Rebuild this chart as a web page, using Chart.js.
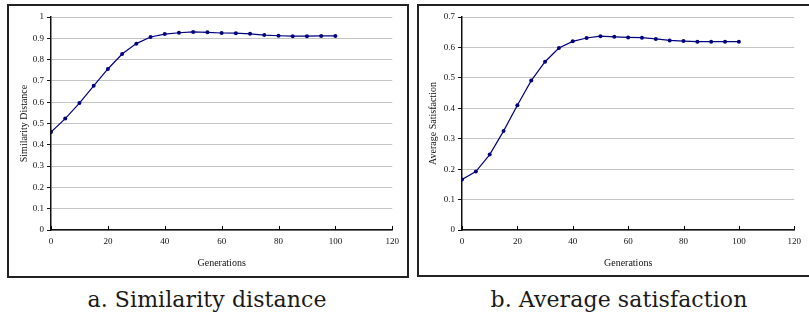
<!DOCTYPE html>
<html>
<head>
<meta charset="utf-8">
<script src="https://cdn.jsdelivr.net/npm/chart.js@4.4.0/dist/chart.umd.min.js"></script>
<style>
  html, body { margin: 0; padding: 0; background: #fff; }
  body { width: 809px; height: 320px; position: relative; overflow: hidden; }
  .panel { position: absolute; box-sizing: border-box; border: 2px solid #222; }
  canvas { position: absolute; }
  .cap { position: absolute; font-family: "DejaVu Serif", serif; font-size: 22px; letter-spacing: 0.1px; color: #1a1a1a; white-space: nowrap; transform: translateX(-50%); }
</style>
</head>
<body>
<div class="panel" style="left:7px;top:4px;width:402px;height:274px;"></div>
<div class="panel" style="left:417px;top:4px;width:400px;height:273px;"></div>
<canvas id="c1" width="395" height="266" style="left:10px;top:7px;"></canvas>
<canvas id="c2" width="386" height="266" style="left:421px;top:7px;"></canvas>
<div class="cap" style="left:207px;top:287px;">a. Similarity distance</div>
<div class="cap" style="left:619px;top:287px;">b. Average satisfaction</div>
<script>
const generations = [0,5,10,15,20,25,30,35,40,45,50,55,60,65,70,75,80,85,90,95,100];
const similarityDistance = [0.460,0.523,0.596,0.677,0.756,0.826,0.875,0.906,0.920,0.926,0.930,0.928,0.925,0.924,0.921,0.915,0.912,0.910,0.910,0.911,0.911];
const averageSatisfaction = [0.166,0.192,0.248,0.325,0.410,0.491,0.553,0.598,0.620,0.631,0.637,0.635,0.633,0.632,0.628,0.623,0.621,0.619,0.619,0.619,0.619];
const xTicks = [0,20,40,60,80,100,120];
const yTicksA = [0,0.1,0.2,0.3,0.4,0.5,0.6,0.7,0.8,0.9,1];
const yTicksB = [0,0.1,0.2,0.3,0.4,0.5,0.6,0.7];

const serif = "'Liberation Serif', 'Times New Roman', Tinos, 'DejaVu Serif', serif";
const tickFont = { family: serif, size: 9 };
const titleFont = { family: serif, size: 10 };

const innerTicks = {
  id: 'innerTicks',
  afterDatasetsDraw(chart) {
    const x = chart.scales.x, ctx = chart.ctx;
    ctx.save();
    ctx.strokeStyle = '#000';
    ctx.lineWidth = 1;
    xTicks.forEach(v => {
      const px = Math.round(x.getPixelForValue(v)) + 0.5;
      ctx.beginPath();
      ctx.moveTo(px, x.top);
      ctx.lineTo(px, x.top - 4);
      ctx.stroke();
    });
    ctx.restore();
  }
};

function makeChart(id, values, yTicks, ymax, ytitle, padRight, yTitlePad) {
  return new Chart(document.getElementById(id), {
    type: 'line',
    data: {
      datasets: [{
        data: generations.map((g, i) => ({ x: g, y: values[i] })),
        borderColor: '#00007f',
        backgroundColor: '#00007f',
        borderWidth: 1.2,
        pointRadius: 2,
        pointBorderWidth: 0,
        tension: 0,
        fill: false
      }]
    },
    options: {
      responsive: false,
      animation: false,
      layout: { padding: { top: 10, right: padRight, left: 0, bottom: 0 } },
      plugins: { legend: { display: false }, tooltip: { enabled: false } },
      scales: {
        x: {
          type: 'linear', min: 0, max: 120,
          afterBuildTicks(s) { s.ticks = xTicks.map(v => ({ value: v })); },
          afterFit(s) { s.height = 43; },
          ticks: { font: tickFont, color: '#111', padding: 6, maxRotation: 0, callback: v => String(v) },
          grid: { drawOnChartArea: false, drawTicks: false },
          border: { display: true, color: '#111', width: 1.5 },
          title: { display: true, text: 'Generations', font: titleFont, color: '#111', padding: { top: 0, bottom: 4 } }
        },
        y: {
          type: 'linear', min: 0, max: ymax,
          afterBuildTicks(s) { s.ticks = yTicks.map(v => ({ value: v })); },
          afterFit(s) { s.width = 41; },
          ticks: { font: tickFont, color: '#111', padding: 3, callback: v => String(v) },
          grid: { color: '#c4c4c4', lineWidth: 1, drawTicks: true, tickLength: 4, tickColor: '#111' },
          border: { display: true, color: '#111', width: 1.5 },
          title: { display: true, text: ytitle, font: titleFont, color: '#111', padding: { top: yTitlePad, bottom: 0 } }
        }
      }
    },
    plugins: [innerTicks]
  });
}

makeChart('c1', similarityDistance, yTicksA, 1, 'Similarity Distance', 10, 8);
makeChart('c2', averageSatisfaction, yTicksB, 0.7, 'Average Satisfaction', 1, 6);
</script>
</body>
</html>
